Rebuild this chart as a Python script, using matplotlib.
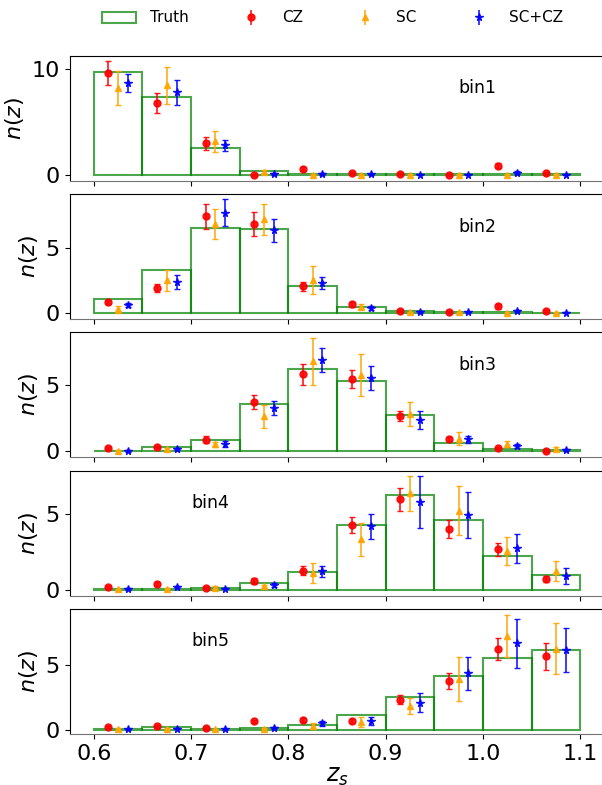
import numpy as np
import matplotlib
matplotlib.use("Agg")
import matplotlib.pyplot as plt
from matplotlib.patches import Patch

# Bords des intervalles en redshift
edges = np.linspace(0.6, 1.1, 11)
centres = 0.5 * (edges[:-1] + edges[1:])
largeur = edges[1] - edges[0]

# Distributions vraies n(z) par bin tomographique
truth_1 = [9.75, 7.32, 2.49, 0.35, 0.02, 0.02, 0.02, 0.02, 0.02, 0.02]
truth_2 = [1.11, 3.35, 6.55, 6.50, 2.06, 0.44, 0.13, 0.05, 0.05, 0.03]
truth_3 = [0.03, 0.35, 0.83, 3.61, 6.21, 5.33, 2.73, 0.66, 0.20, 0.10]
truth_4 = [0.01, 0.02, 0.11, 0.42, 1.15, 4.27, 6.23, 4.58, 2.22, 0.99]
truth_5 = [0.01, 0.21, 0.03, 0.13, 0.34, 1.12, 2.50, 4.19, 5.57, 6.15]

# Estimations CZ (valeur, erreur)
cz_1 = [9.59, 6.75, 2.96, -0.03, 0.54, 0.15, 0.10, 0.00, 0.85, 0.15]
cz_err_1 = [1.15, 0.96, 0.58, 0.10, 0.15, 0.10, 0.08, 0.08, 0.25, 0.10]
cz_2 = [0.85, 1.96, 7.47, 6.88, 2.06, 0.67, 0.13, 0.08, 0.52, 0.13]
cz_err_2 = [0.15, 0.30, 0.97, 0.93, 0.35, 0.20, 0.08, 0.08, 0.18, 0.08]
cz_3 = [0.23, 0.33, 0.88, 3.71, 5.83, 5.50, 2.65, 0.91, 0.25, 0.00]
cz_err_3 = [0.08, 0.10, 0.25, 0.54, 0.77, 0.69, 0.39, 0.15, 0.10, 0.08]
cz_4 = [0.18, 0.37, 0.09, 0.57, 1.26, 4.27, 5.97, 3.99, 2.67, 0.70]
cz_err_4 = [0.08, 0.15, 0.08, 0.20, 0.30, 0.54, 0.75, 0.60, 0.43, 0.20]
cz_5 = [0.18, 0.26, 0.13, 0.63, 0.76, 0.70, 2.32, 3.78, 6.22, 5.68]
cz_err_5 = [0.08, 0.10, 0.08, 0.10, 0.15, 0.15, 0.36, 0.61, 0.85, 1.04]

# Estimations SC
sc_1 = [8.20, 8.45, 3.15, 0.30, 0.00, 0.00, 0.00, 0.00, 0.00, 0.00]
sc_err_1 = [1.58, 1.72, 1.02, 0.10, 0.05, 0.05, 0.05, 0.05, 0.05, 0.05]
sc_2 = [0.28, 2.53, 6.88, 7.26, 2.55, 0.48, 0.05, 0.05, 0.00, 0.00]
sc_err_2 = [0.28, 0.79, 1.17, 1.20, 1.07, 0.20, 0.05, 0.05, 0.05, 0.05]
sc_3 = [0.05, 0.15, 0.53, 2.65, 6.82, 5.80, 2.83, 0.96, 0.55, 0.20]
sc_err_3 = [0.05, 0.08, 0.20, 0.88, 1.80, 1.60, 0.90, 0.50, 0.25, 0.15]
sc_4 = [0.02, 0.07, 0.13, 0.22, 1.12, 3.33, 6.37, 5.22, 2.56, 1.23]
sc_err_4 = [0.05, 0.05, 0.08, 0.10, 0.67, 1.08, 1.15, 1.60, 0.94, 0.66]
sc_5 = [0.05, 0.08, 0.03, 0.08, 0.29, 0.57, 1.82, 3.93, 7.27, 6.28]
sc_err_5 = [0.05, 0.05, 0.05, 0.05, 0.24, 0.38, 0.64, 1.72, 1.61, 1.98]

# Estimations SC+CZ
sccz_1 = [8.67, 7.82, 2.77, 0.05, 0.06, 0.02, 0.00, 0.00, 0.20, 0.00]
sccz_err_1 = [0.85, 1.18, 0.50, 0.08, 0.08, 0.05, 0.05, 0.05, 0.12, 0.05]
sccz_2 = [0.62, 2.40, 7.75, 6.40, 2.30, 0.39, 0.08, 0.05, 0.13, 0.03]
sccz_err_2 = [0.15, 0.57, 1.04, 0.89, 0.46, 0.15, 0.05, 0.05, 0.08, 0.05]
sccz_3 = [0.02, 0.18, 0.56, 3.26, 6.92, 5.53, 2.37, 0.91, 0.40, 0.10]
sccz_err_3 = [0.05, 0.08, 0.20, 0.53, 0.93, 0.91, 0.67, 0.25, 0.13, 0.08]
sccz_4 = [0.04, 0.18, 0.07, 0.31, 1.21, 4.19, 5.79, 4.91, 2.73, 0.90]
sccz_err_4 = [0.05, 0.08, 0.05, 0.12, 0.35, 0.83, 1.69, 1.53, 0.95, 0.52]
sccz_5 = [0.03, 0.08, 0.03, 0.13, 0.49, 0.65, 2.08, 4.38, 6.69, 6.20]
sccz_err_5 = [0.05, 0.05, 0.05, 0.08, 0.20, 0.30, 0.73, 1.28, 1.91, 1.70]

noms_bins = ["bin1", "bin2", "bin3", "bin4", "bin5"]
truths = [truth_1, truth_2, truth_3, truth_4, truth_5]
czs = [(cz_1, cz_err_1), (cz_2, cz_err_2), (cz_3, cz_err_3), (cz_4, cz_err_4), (cz_5, cz_err_5)]
scs = [(sc_1, sc_err_1), (sc_2, sc_err_2), (sc_3, sc_err_3), (sc_4, sc_err_4), (sc_5, sc_err_5)]
scczs = [(sccz_1, sccz_err_1), (sccz_2, sccz_err_2), (sccz_3, sccz_err_3),
         (sccz_4, sccz_err_4), (sccz_5, sccz_err_5)]

# Limites verticales de chaque panneau
ylims = [(-0.57, 11.26), (-0.46, 9.2), (-0.43, 9.04), (-0.40, 7.86), (-0.34, 9.35)]
# Position du texte du bin (x en données, y en fraction d'axe)
pos_texte = [(0.994, 0.74), (0.994, 0.74), (0.994, 0.74), (0.72, 0.74), (0.72, 0.74)]

W, H = 602, 785
fig = plt.figure(figsize=(W / 100, H / 100), dpi=100)

# Cadres des panneaux en pixels (le bord droit dépasse légèrement la figure)
gauche, droite = 69.5, 604.5
hauts = [55.7, 194, 332, 470.7, 609]
hauteur = 125

axes = []
for i in range(5):
    ax = fig.add_axes([gauche / W, 1 - (hauts[i] + hauteur) / H,
                       (droite - gauche) / W, hauteur / H])
    axes.append(ax)

styles = [('red', 'o', 5), ('orange', '^', 5), ('blue', '*', 5.5)]

for i, ax in enumerate(axes):
    ax.bar(edges[:-1], truths[i], width=largeur, align='edge', fill=False,
           edgecolor='green', linewidth=1.5, alpha=0.7)
    for (val, err), dx, (coul, mk, ms) in zip([czs[i], scs[i], scczs[i]],
                                              [-0.01, 0.0, 0.01], styles):
        ax.errorbar(centres + dx, val, yerr=err, fmt=mk, color=coul, ms=ms,
                    capsize=2.5, elinewidth=1.2, capthick=1.0, alpha=0.9)
    ax.set_xlim(0.575, 1.125)
    ax.set_ylim(*ylims[i])
    ax.set_yticks([0, 10] if i == 0 else [0, 5])
    ax.set_xticks([0.6, 0.7, 0.8, 0.9, 1.0, 1.1])
    ax.tick_params(axis='y', labelsize=16)
    ax.tick_params(axis='x', labelsize=16)
    if i < 4:
        ax.tick_params(axis='x', labelbottom=False)
    ax.set_ylabel(r"$n(z)$", fontsize=16, labelpad=4)
    tx, ty = pos_texte[i]
    ax.text(tx, ty, noms_bins[i], transform=ax.get_xaxis_transform(),
            ha='center', va='center', fontsize=12.5)
    ax.spines['bottom'].set_color('0.45')

axes[-1].set_xlabel(r"$z_s$", fontsize=17, labelpad=0)
axes[-1].xaxis.set_ticklabels(["0.6", "0.7", "0.8", "0.9", "1.0", "1.1"])

# Légende commune au-dessus des panneaux
poignees = [Patch(facecolor='none', edgecolor='green', linewidth=1.5, alpha=0.7)]
etiquettes = ["Truth", "CZ", "SC", "SC+CZ"]
for coul, mk, ms in styles:
    h = axes[0].errorbar([], [], yerr=[], fmt=mk, color=coul, ms=ms,
                         capsize=2.5, elinewidth=1.2, alpha=0.9)
    poignees.append(h)
fig.legend(poignees, etiquettes, loc='center', bbox_to_anchor=(333 / W, 1 - 18 / H),
           ncol=4, frameon=False, fontsize=11, columnspacing=3.0,
           handlelength=2.2, handletextpad=0.9)

fig.savefig("out.png", dpi=100)
